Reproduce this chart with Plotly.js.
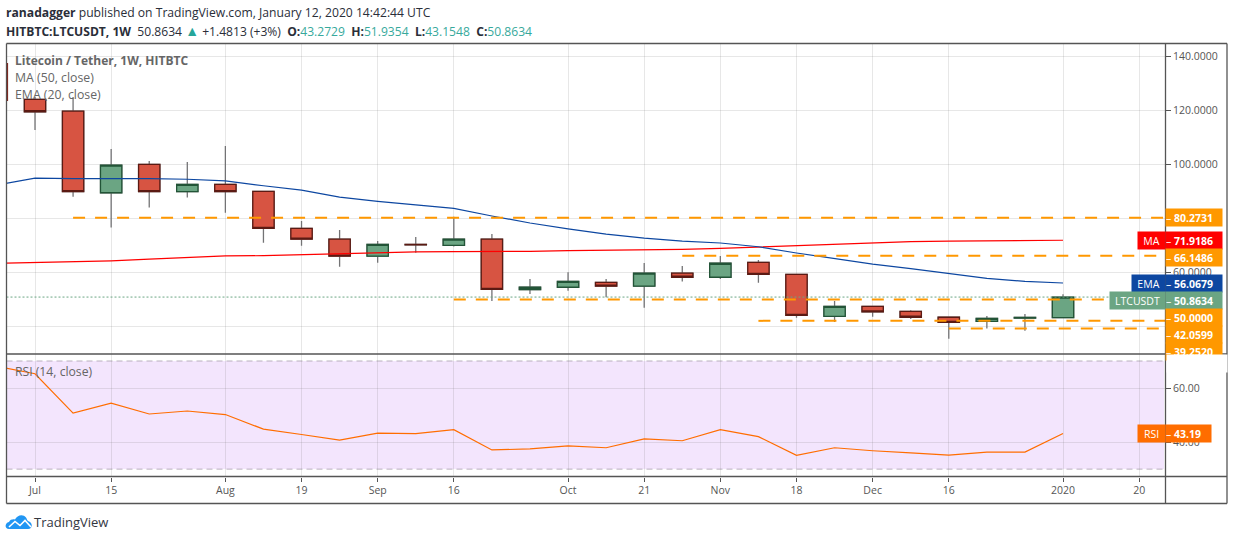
<!DOCTYPE html>
<html>
<head>
<meta charset="utf-8">
<script src="https://cdn.plot.ly/plotly-3.0.1.min.js"></script>
<style>html,body{margin:0;padding:0;background:#fff}#chart{width:1234px;height:540px}</style>
</head>
<body>
<div id="chart"></div>
<script>
const weeks = ["2019-07-01","2019-07-08","2019-07-15","2019-07-22","2019-07-29","2019-08-05","2019-08-12","2019-08-19","2019-08-26","2019-09-02","2019-09-09","2019-09-16","2019-09-23","2019-09-30","2019-10-07","2019-10-14","2019-10-21","2019-10-28","2019-11-04","2019-11-11","2019-11-18","2019-11-25","2019-12-02","2019-12-09","2019-12-16","2019-12-23","2019-12-30","2020-01-06"];
const open  = [124.1,119.7,89.5,100.0,89.9,92.6,90.0,76.3,72.3,66.0,70.4,70.0,72.3,53.6,54.5,56.3,54.9,59.7,58.2,63.7,59.3,43.7,47.4,45.6,43.4,41.9,43.1,43.2729];
const high  = [125.0,125.0,105.7,101.3,100.9,106.8,90.0,79.0,75.7,71.6,73.1,80.6,74.2,57.6,60.1,57.6,63.5,62.4,66.1,64.6,59.4,49.4,47.4,46.0,43.4,43.9,44.6,51.9354];
const low   = [112.7,88.0,76.6,84.0,87.7,82.1,71.0,69.9,62.1,63.6,67.3,69.6,49.4,52.0,53.2,50.8,46.9,56.6,57.6,56.2,43.2,41.6,43.6,42.7,35.4,39.2,38.4,43.1548];
const close = [119.5,89.9,99.7,89.9,92.6,89.9,76.3,72.3,66.0,70.4,70.2,72.3,53.7,54.5,56.7,54.9,59.7,58.2,63.4,59.3,44.1,47.4,45.4,43.4,41.5,43.0,43.3,50.8634];

const lineDates = ["2019-06-24"].concat(weeks);
const ema = [92.4,94.9,94.7,94.8,94.7,94.5,93.9,92.1,90.5,87.9,86.3,85.0,83.7,80.9,78.3,76.1,74.2,72.7,71.6,70.9,69.5,67.2,65.2,63.1,61.4,59.7,57.8,56.7,56.0679];
const ma  = [63.4,63.7,63.9,64.3,64.9,65.5,66.1,66.2,66.6,67.0,67.4,67.6,67.7,67.7,67.8,68.1,68.2,68.3,68.5,68.9,69.4,70.0,70.6,71.1,71.4,71.6,71.7,71.8,71.9186];
const rsi = [68.0,65.3,50.7,54.4,50.4,51.5,50.2,44.8,42.8,40.7,43.3,43.1,44.6,37.1,37.5,38.6,37.9,41.2,40.5,44.6,42.0,35.1,37.9,36.8,36.0,35.2,36.3,36.3,43.19];

const levels = [80.2731,66.1486,50.0,42.0599,39.2520];
const levelStarts = ["2019-07-08","2019-10-28","2019-09-16","2019-11-11","2019-12-16"];
const lastPrice = 50.8634;

const xTickDates = ["2019-07-01","2019-07-15","2019-08-05","2019-08-19","2019-09-02","2019-09-16","2019-10-07","2019-10-21","2019-11-04","2019-11-18","2019-12-02","2019-12-16","2020-01-06","2020-01-20"];
const xTickText = ["Jul","15","Aug","19","Sep","16","Oct","21","Nov","18","Dec","16","2020","20"];
const priceTicks = [140,120,100,80,60,40];
const priceTickText = ["140.0000","120.0000","100.0000","","60.0000",""];
const rsiTicks = [60,40];
const rsiTickText = ["60.00","40.00"];
const rsiBounds = [30,70];

const W = 1234, H = 540;
const FONT = '"Open Sans", sans-serif';
const px = x => x / W, py = y => 1 - y / H;
const xRange = ["2019-06-25 18:14","2020-01-24 18:00"];
const UP = "#6BA583", UPD = "#225437", DN = "#D75442", DND = "#5B1A13", WICK = "#737375";
const GRID = "rgba(110,110,110,0.17)", ORANGE = "#FF9800", FRAME = "#555555";

function line(x, y, color, width, dash, xa, ya) {
  return {type:"scatter", mode:"lines", x, y, xaxis:xa||"x", yaxis:ya||"y", showlegend:false, hoverinfo:"skip",
          line:{color, width, dash:dash||"solid"}};
}
const bodyHigh = open.map((o,i)=>Math.max(o,close[i]));
const bodyLow  = open.map((o,i)=>Math.min(o,close[i]));

const traces = [
  line(lineDates, ma, "#FF0000", 1.2),
  line(lineDates, ema, "#0D47A1", 1.2),
];
levels.forEach((lv,i)=>{
  traces.push(line([levelStarts[i], xRange[1]], [lv,lv], ORANGE, 2, "12px,10px"));
});
traces.push({type:"candlestick", x:weeks, open, high, low, close, xaxis:"x", yaxis:"y", whiskerwidth:0, showlegend:false, hoverinfo:"skip",
  increasing:{line:{color:WICK,width:1.3},fillcolor:UP}, decreasing:{line:{color:WICK,width:1.3},fillcolor:DN}});
traces.push({type:"candlestick", x:weeks, open, high:bodyHigh, low:bodyLow, close, xaxis:"x", yaxis:"y", whiskerwidth:0, showlegend:false, hoverinfo:"skip",
  increasing:{line:{color:UPD,width:1.3},fillcolor:UP}, decreasing:{line:{color:DND,width:1.3},fillcolor:DN}});
traces.push(line(xRange, [lastPrice,lastPrice], UP, 1, "2px,2px"));
traces.push(line(lineDates, rsi, "#FF6D00", 1.2, "solid", "x2", "y2"));

const ann = [];
function label(x, y, text, size, color) {
  ann.push({xref:"paper", yref:"paper", x:px(x-2), y:py(y), xanchor:"left", yanchor:"middle", showarrow:false, align:"left",
            text, font:{family:FONT, size, color}});
}
function tag(x0, x1, yc, text, bg, align) {
  ann.push({xref:"paper", yref:"paper", x:px(x0), y:py(yc), xanchor:"left", yanchor:"middle", showarrow:false, align:align||"left",
            width:x1-x0, height:17, borderpad:0, bgcolor:bg, text, font:{family:FONT, size:10.5, color:"#fff"}});
}
const B = "<b>", E = "</b>", S = "\u00a0";
const teal = s => '<span style="color:#37A99C">'+s+'</span>';
const arrow = '<span style="color:#26A69A;font-size:14px">▲</span>';
label(6, 13, B+"ranadagger"+E+" published on TradingView.com, January 12, 2020 14:42:44 UTC", 12.15, "#2a2e39");
label(6, 30, B+"HITBTC:LTCUSDT, 1W"+E+S+" 50.8634 "+arrow+" +1.4813 (+3%) "+S+B+"O:"+E+teal("43.2729")+S+" "+B+"H:"+E+teal("51.9354")+S+" "+B+"L:"+E+teal("43.1548")+S+" "+B+"C:"+E+teal("50.8634"), 12.1, "#2a2e39");
label(15, 60.5, B+"Litecoin / Tether, 1W, HITBTC"+E, 12, "#666666");
label(15, 77.5, "MA (50, close)", 12.3, "#666666");
label(15, 94.5, "EMA (20, close)", 12.3, "#666666");
label(15, 371.5, "RSI (14, close)", 12.2, "#666666");
label(34, 521.5, "TradingView", 13, "#33363f");

tag(1165,1221,217.5,"– <b>80.2731</b>",ORANGE);
tag(1137,1164,240.5,"MA","#FF0000","center");
tag(1165,1221,240.5,"– <b>71.9186</b>","#FF0000");
tag(1165,1221,257.5,"– <b>66.1486</b>",ORANGE);
tag(1131,1164,283.5,"EMA","#0D47A1","center");
tag(1165,1221,283.5,"– <b>56.0679</b>","#0D47A1");
tag(1109,1164,300.5,"LTCUSDT",UP,"center");
tag(1165,1221,300.5,"– <b>50.8634</b>",UP);
tag(1165,1221,317.5,"– <b>50.0000</b>",ORANGE);
tag(1165,1221,334.5,"– <b>42.0599</b>",ORANGE);
tag(1165,1221,351.5,"– <b>39.2520</b>",ORANGE);
tag(1166,1226,363.3,"\u00a0","#ffffff");
tag(1137,1164,433.5,"RSI","#FF6D00","center");
tag(1165,1210,433.5,"– <b>43.19</b>","#FF6D00");

function seg(x0,y0,x1,y1,color,w){
  return {type:"line", xref:"paper", yref:"paper", layer:"above", x0:px(x0), y0:py(y0), x1:px(x1), y1:py(y1), line:{color,width:w||1.3}};
}
const P = (x,y)=>px(x).toFixed(5)+","+py(y).toFixed(5);
const cloud = "M"+P(9,529)+" C"+P(4.5,529)+" "+P(4.5,523)+" "+P(9,522)+" C"+P(10,519.5)+" "+P(13,519)+" "+P(15,519.5)+" C"+P(17,515)+" "+P(23,513.5)+" "+P(26,517.5)+" C"+P(27,519)+" "+P(27,520)+" "+P(28,521)+" C"+P(33,522)+" "+P(33,529)+" "+P(28,529)+" Z";
const zig = "M"+P(9,527)+" L"+P(15,521.5)+" L"+P(20,525.5)+" L"+P(25,520.5)+" L"+P(31,527);

const shapes = [
  {type:"rect", xref:"paper", yref:"y2", layer:"below", x0:px(6.5), x1:px(1164), y0:rsiBounds[0], y1:rsiBounds[1], fillcolor:"#F3E5FD", line:{width:0}},
  {type:"line", xref:"paper", yref:"y2", layer:"between", x0:px(6.5), x1:px(1164), y0:rsiBounds[0], y1:rsiBounds[0], line:{color:"#B9B0BE",width:1,dash:"6px,4px"}},
  {type:"line", xref:"paper", yref:"y2", layer:"between", x0:px(6.5), x1:px(1164), y0:rsiBounds[1], y1:rsiBounds[1], line:{color:"#B9B0BE",width:1,dash:"6px,4px"}},
  seg(6.5,43.5,1227,43.5,FRAME), seg(6.5,503.5,1227,503.5,FRAME), seg(6.5,43.5,6.5,503.5,FRAME), seg(1227,43.5,1227,503.5,FRAME),
  seg(1165.5,43.5,1165.5,503.5,FRAME), seg(6.5,354,1227,354,FRAME), seg(6.5,476.5,1227,476.5,FRAME),
  seg(7.5,63,7.5,101,"#7A2A22",1.2),
  {type:"path", xref:"paper", yref:"paper", layer:"above", path:cloud, fillcolor:"#2196F3", line:{width:0}},
  {type:"path", xref:"paper", yref:"paper", layer:"above", path:zig, line:{color:"#FFFFFF",width:1.6}},
];

const xCommon = {type:"date", range:xRange, tickmode:"array", tickvals:xTickDates, ticktext:xTickText, showgrid:true, gridcolor:GRID, gridwidth:1,
  zeroline:false, showline:false, rangeslider:{visible:false}, domain:[px(6.5),px(1165)], fixedrange:true};
const yCommon = {type:"linear", side:"right", tickmode:"array", showgrid:true, gridcolor:GRID, gridwidth:1, zeroline:false, showline:false,
  ticks:"outside", ticklen:5, tickcolor:FRAME, tickfont:{family:FONT,size:10.5,color:"#555"}, fixedrange:true};

const layout = {
  width:W, height:H, margin:{l:0,r:0,t:0,b:0}, paper_bgcolor:"#fff", plot_bgcolor:"rgba(0,0,0,0)", showlegend:false, hovermode:false,
  boxgap:0.44, boxgroupgap:0, boxmode:"overlay",
  font:{family:FONT},
  xaxis:Object.assign({}, xCommon, {anchor:"y", showticklabels:false, ticks:""}),
  xaxis2:Object.assign({}, xCommon, {anchor:"y2", matches:"x", ticks:"outside", ticklen:4, tickcolor:FRAME, tickfont:{family:FONT,size:10.5,color:"#555"}}),
  yaxis:Object.assign({}, yCommon, {anchor:"x", domain:[py(354),py(43.5)], range:[29.78,144.78], tickvals:priceTicks, ticktext:priceTickText}),
  yaxis2:Object.assign({}, yCommon, {anchor:"x2", domain:[py(476.5),py(354)], range:[27.27,72.6], tickvals:rsiTicks, ticktext:rsiTickText}),
  shapes, annotations:ann,
};
Plotly.newPlot("chart", traces, layout, {displayModeBar:false, staticPlot:true});
</script>
</body>
</html>
